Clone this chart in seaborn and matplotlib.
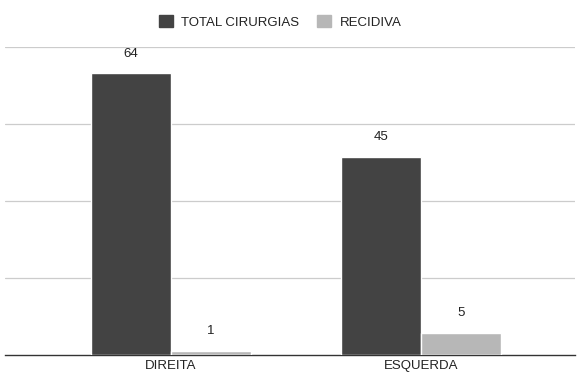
import matplotlib
matplotlib.use("Agg")
import matplotlib.pyplot as plt
import seaborn as sns
import pandas as pd

categories = ["DIREITA", "ESQUERDA"]
series_names = ["TOTAL CIRURGIAS", "RECIDIVA"]
total_cirurgias = [64, 45]
recidiva = [1, 5]
palette = ["#434343", "#b7b7b7"]

df = pd.DataFrame({
    "lado": categories * 2,
    "serie": [series_names[0]] * 2 + [series_names[1]] * 2,
    "valor": total_cirurgias + recidiva,
})

sns.set_theme(style="white")
plt.rcParams["font.family"] = ["Liberation Sans", "DejaVu Sans"]

fig = plt.figure(figsize=(5.8, 3.73), dpi=100)
ax = fig.add_axes([5 / 580, 18 / 373, 570 / 580, (355 - 47) / 373])

sns.barplot(data=df, x="lado", y="valor", hue="serie", palette=palette,
            width=0.64, saturation=1, ax=ax, legend=False, zorder=3)

ax.set_xlim(-0.664, 1.616)
ax.set_ylim(0, 70)
ax.set_yticks([17.5, 35, 52.5, 70])
ax.yaxis.grid(True, color="#cccccc", linewidth=0.9, zorder=0)
ax.set_yticklabels([])
ax.tick_params(axis="y", length=0)
ax.tick_params(axis="x", length=0, labelsize=9.5, pad=3.5, colors="#222222")
ax.set_xlabel("")
ax.set_ylabel("")
for side in ["top", "right", "left"]:
    ax.spines[side].set_visible(False)
ax.spines["bottom"].set_color("#333333")
ax.spines["bottom"].set_linewidth(1)

for container in ax.containers:
    ax.bar_label(container, padding=10, fontsize=9.5, color="#222222")

handles = [plt.Rectangle((0, 0), 1, 1, color=c) for c in palette]
fig.legend(handles, series_names, loc="center", bbox_to_anchor=(280 / 580, 1 - 22 / 373),
           ncol=2, frameon=False, fontsize=9.5, handlelength=1.06, handleheight=1.06,
           columnspacing=1.29, handletextpad=0.68, borderpad=0, labelcolor="#222222")

fig.savefig("out.png", dpi=100)
